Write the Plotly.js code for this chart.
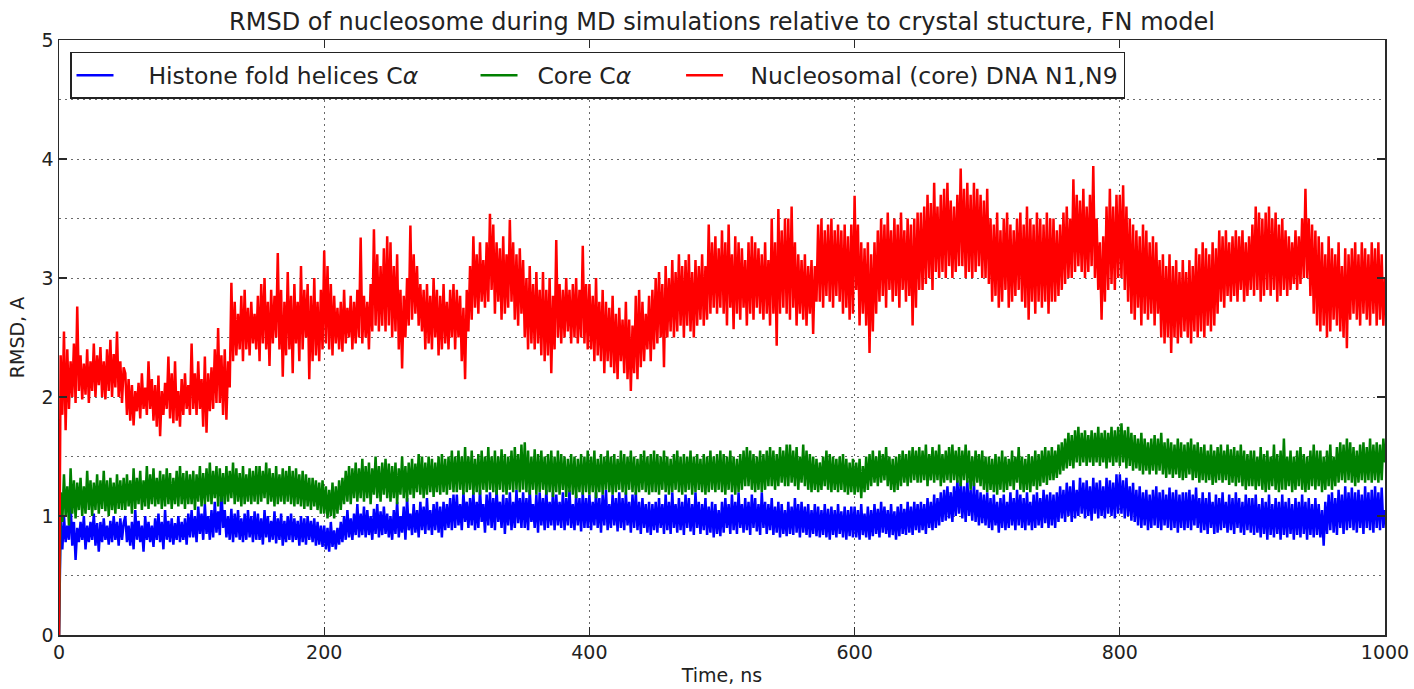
<!DOCTYPE html>
<html><head><meta charset="utf-8">
<script src="https://cdn.plot.ly/plotly-3.0.1.min.js"></script>
<style>html,body{margin:0;padding:0;background:#fff}#chart{width:1414px;height:689px}</style>
</head><body><div id="chart"></div>
<script>
// time axis: one sample every 1.25 ns starting at 0 ns
const timeStart = 0;
const timeStep = 1.25;

const seriesNames = ['Histone fold helices C<i>α</i>', 'Core C<i>α</i>', 'Nucleosomal (core) DNA N1,N9'];

// RMSD (A), Histone fold helices C-alpha
const histoneRmsd = [
0,0.95,0.72,1.0,0.78,0.92,0.8,1.11,0.75,0.95,0.63,0.9,0.78,0.95,0.8,1.0,0.72,0.92,0.78,0.95,0.8,1.02,0.75,0.94,0.7,0.95,0.78,0.98,0.8,0.92,0.76,0.96,0.78,1.0,0.8,0.95,0.75,0.98,0.8,0.94,
1.0,0.78,0.92,0.75,0.95,0.72,1.05,0.8,0.96,0.78,0.92,0.7,1.0,0.8,0.95,0.78,0.92,0.74,0.98,0.8,1.02,0.78,0.95,0.72,1.05,0.8,0.96,0.78,0.98,0.76,0.94,0.8,1.0,0.78,0.95,0.8,0.98,0.76,1.02,0.82,
1.05,0.82,1.0,0.78,1.08,0.85,1.02,0.8,1.1,0.85,1.0,0.8,1.05,0.82,1.12,0.86,1.04,0.84,1.22,0.9,1.05,0.82,1.0,0.8,1.06,0.78,1.02,0.82,1.05,0.8,0.98,0.78,1.02,0.8,1.05,0.82,1.0,0.78,1.04,0.8,
1.02,0.8,0.98,0.76,1.05,0.82,1.0,0.78,0.96,0.8,1.04,0.77,0.98,0.8,1.02,0.75,0.96,0.78,1.0,0.8,1.02,0.78,0.98,0.8,0.96,0.75,1.0,0.78,0.98,0.76,1.0,0.8,0.96,0.78,0.98,0.75,0.95,0.76,0.92,0.74,
0.92,0.72,0.9,0.7,0.95,0.74,0.88,0.72,0.9,0.76,0.95,0.78,1.0,0.8,1.05,0.82,0.98,0.8,1.02,0.84,1.1,0.82,1.02,0.84,1.08,0.82,1.05,0.84,1.0,0.8,1.06,0.85,1.1,0.82,1.04,0.84,1.08,0.85,1.02,0.82,
1.0,0.8,1.05,0.85,1.12,0.82,1.0,0.86,1.08,0.8,1.15,0.88,1.02,0.84,1.1,0.86,1.05,0.82,1.12,0.88,1.08,0.85,1.15,0.88,1.05,0.84,1.1,0.88,1.12,0.86,1.08,0.82,1.12,0.88,1.1,0.9,1.15,0.88,1.18,0.9,
1.18,0.92,1.1,0.88,1.2,0.95,1.12,0.9,1.15,0.92,1.2,0.88,1.12,0.9,1.22,0.95,1.1,0.86,1.18,0.92,1.2,0.9,1.15,0.88,1.22,0.95,1.12,0.9,1.18,0.85,1.15,0.92,1.2,0.88,1.12,0.9,1.22,0.94,1.15,0.9,
1.2,0.9,1.15,0.88,1.22,0.95,1.1,0.9,1.18,0.86,1.2,0.92,1.15,0.88,1.22,0.9,1.12,0.92,1.2,0.88,1.18,0.92,1.12,0.9,1.2,0.88,1.15,0.92,1.22,0.9,1.1,0.88,1.18,0.92,1.15,0.87,1.2,0.9,1.15,0.9,
1.18,0.88,1.12,0.92,1.2,0.9,1.15,0.86,1.18,0.92,1.22,0.88,1.1,0.9,1.18,0.92,1.15,0.87,1.2,0.9,1.15,0.88,1.2,0.92,1.12,0.86,1.18,0.9,1.2,0.88,1.12,0.85,1.15,0.9,1.1,0.86,1.12,0.84,1.1,0.88,
1.12,0.86,1.15,0.9,1.1,0.85,1.18,0.88,1.12,0.85,1.2,0.9,1.1,0.86,1.15,0.88,1.12,0.84,1.18,0.9,1.15,0.87,1.1,0.84,1.2,0.9,1.12,0.85,1.1,0.88,1.15,0.84,1.08,0.86,1.12,0.82,1.1,0.85,1.05,0.83,
1.12,0.86,1.15,0.9,1.1,0.85,1.18,0.88,1.12,0.85,1.2,0.9,1.1,0.86,1.15,0.88,1.12,0.84,1.18,0.9,1.15,0.87,1.1,0.84,1.2,0.9,1.12,0.85,1.1,0.88,1.15,0.84,1.08,0.86,1.12,0.82,1.1,0.85,1.05,0.83,
1.12,0.85,1.08,0.84,1.15,0.86,1.1,0.82,1.12,0.86,1.08,0.84,1.1,0.82,1.05,0.85,1.1,0.83,1.08,0.82,1.05,0.84,1.1,0.82,1.06,0.8,1.08,0.84,1.05,0.82,1.1,0.85,1.04,0.82,1.08,0.8,1.05,0.83,1.08,0.82,
1.08,0.82,1.05,0.8,1.1,0.84,1.02,0.82,1.08,0.8,1.05,0.83,1.1,0.85,1.06,0.82,1.12,0.86,1.08,0.85,1.05,0.82,1.1,0.84,1.04,0.8,1.08,0.83,1.1,0.85,1.06,0.84,1.12,0.86,1.08,0.84,1.12,0.88,1.1,0.86,
1.12,0.88,1.1,0.85,1.15,0.9,1.12,0.88,1.18,0.9,1.15,0.92,1.2,0.95,1.22,0.96,1.25,0.98,1.2,0.95,1.25,1.0,1.3,1.02,1.28,0.98,1.25,0.95,1.3,1.0,1.22,0.96,1.28,0.95,1.22,0.92,1.2,0.94,1.18,0.92,
1.2,0.9,1.15,0.88,1.18,0.92,1.12,0.86,1.15,0.9,1.18,0.88,1.12,0.9,1.2,0.92,1.15,0.88,1.22,0.92,1.18,0.9,1.15,0.88,1.2,0.92,1.12,0.88,1.18,0.9,1.2,0.92,1.15,0.9,1.22,0.94,1.18,0.9,1.2,0.92,
1.18,0.9,1.2,0.95,1.25,0.98,1.22,0.95,1.28,1.0,1.25,0.95,1.3,0.98,1.22,1.0,1.32,1.02,1.28,0.98,1.3,1.0,1.25,0.96,1.32,1.02,1.28,0.98,1.3,1.0,1.25,0.98,1.32,1.02,1.3,1.0,1.28,0.98,1.35,1.02,
1.35,1.02,1.3,0.98,1.32,1.0,1.25,0.96,1.28,0.95,1.22,0.92,1.25,0.9,1.2,0.92,1.22,0.88,1.18,0.9,1.22,0.92,1.25,0.9,1.2,0.88,1.22,0.92,1.18,0.9,1.24,0.88,1.2,0.9,1.22,0.86,1.18,0.9,1.2,0.88,
1.2,0.9,1.22,0.88,1.18,0.92,1.24,0.9,1.15,0.86,1.2,0.88,1.15,0.85,1.2,0.9,1.12,0.85,1.18,0.86,1.15,0.88,1.2,0.9,1.12,0.86,1.18,0.88,1.15,0.85,1.2,0.9,1.15,0.86,1.12,0.84,1.18,0.88,1.15,0.86,
1.15,0.84,1.18,0.86,1.1,0.82,1.15,0.85,1.12,0.8,1.18,0.84,1.1,0.82,1.15,0.85,1.12,0.8,1.18,0.84,1.12,0.82,1.15,0.85,1.1,0.8,1.15,0.84,1.12,0.82,1.18,0.85,1.12,0.8,1.15,0.84,1.1,0.82,1.15,0.84,
1.1,0.82,1.05,0.75,1.12,0.85,1.18,0.88,1.2,0.86,1.15,0.84,1.22,0.9,1.18,0.85,1.25,0.88,1.2,0.9,1.24,0.88,1.2,0.86,1.22,0.9,1.18,0.85,1.25,0.9,1.2,0.88,1.22,0.86,1.25,0.9,1.2,0.88,1.24,0.9,
1.05];

// RMSD (A), Core C-alpha
const coreRmsd = [
0,1.2,0.95,1.35,1.0,1.25,0.92,1.4,1.02,1.3,0.98,1.28,1.05,1.32,1.0,1.25,1.02,1.38,1.05,1.3,1.0,1.28,1.05,1.35,1.02,1.3,1.06,1.38,1.04,1.3,1.0,1.32,1.05,1.28,1.02,1.35,1.06,1.3,1.05,1.32,
1.05,1.35,1.08,1.3,1.02,1.4,1.06,1.32,1.1,1.38,1.05,1.3,1.08,1.42,1.06,1.35,1.1,1.4,1.08,1.32,1.1,1.38,1.06,1.35,1.08,1.4,1.1,1.36,1.06,1.32,1.1,1.38,1.08,1.42,1.1,1.36,1.06,1.38,1.1,1.35,
1.1,1.38,1.05,1.35,1.12,1.42,1.08,1.36,1.1,1.4,1.12,1.45,1.1,1.38,1.15,1.42,1.08,1.4,1.12,1.36,1.1,1.42,1.12,1.38,1.15,1.45,1.1,1.4,1.12,1.36,1.08,1.42,1.1,1.35,1.12,1.4,1.1,1.38,1.12,1.42,
1.1,1.42,1.12,1.38,1.15,1.45,1.1,1.4,1.12,1.36,1.08,1.42,1.1,1.35,1.12,1.4,1.1,1.38,1.12,1.42,1.1,1.38,1.08,1.4,1.1,1.35,1.08,1.38,1.06,1.35,1.08,1.32,1.05,1.32,1.08,1.3,1.05,1.28,1.02,1.3,
1.02,1.25,0.98,1.22,1.0,1.28,0.98,1.25,1.02,1.3,1.05,1.32,1.1,1.38,1.12,1.42,1.1,1.4,1.15,1.45,1.12,1.4,1.15,1.48,1.12,1.42,1.15,1.45,1.1,1.4,1.18,1.5,1.15,1.42,1.12,1.45,1.18,1.48,1.15,1.44,
1.12,1.42,1.15,1.45,1.1,1.4,1.18,1.5,1.15,1.42,1.12,1.45,1.18,1.48,1.15,1.44,1.2,1.52,1.18,1.5,1.15,1.45,1.18,1.5,1.2,1.48,1.16,1.45,1.2,1.5,1.18,1.52,1.2,1.48,1.18,1.5,1.22,1.55,1.2,1.5,
1.2,1.55,1.22,1.5,1.18,1.58,1.2,1.5,1.22,1.55,1.18,1.48,1.2,1.52,1.18,1.55,1.22,1.5,1.2,1.58,1.22,1.5,1.2,1.55,1.18,1.5,1.22,1.56,1.2,1.52,1.18,1.5,1.22,1.55,1.2,1.58,1.22,1.52,1.2,1.6,
1.22,1.62,1.2,1.55,1.18,1.5,1.22,1.56,1.18,1.52,1.2,1.55,1.22,1.5,1.18,1.52,1.2,1.55,1.16,1.5,1.2,1.55,1.18,1.52,1.22,1.5,1.16,1.48,1.2,1.52,1.18,1.5,1.15,1.48,1.2,1.52,1.18,1.5,1.2,1.55,
1.18,1.5,1.2,1.55,1.15,1.48,1.2,1.52,1.18,1.5,1.22,1.55,1.2,1.5,1.18,1.52,1.2,1.48,1.22,1.55,1.2,1.52,1.18,1.5,1.22,1.55,1.2,1.5,1.18,1.48,1.2,1.52,1.22,1.55,1.2,1.5,1.18,1.52,1.2,1.55,
1.2,1.52,1.18,1.5,1.22,1.55,1.2,1.5,1.18,1.48,1.2,1.52,1.22,1.55,1.2,1.5,1.18,1.52,1.2,1.5,1.22,1.55,1.18,1.5,1.2,1.52,1.22,1.48,1.2,1.52,1.18,1.5,1.2,1.55,1.22,1.5,1.2,1.52,1.22,1.55,
1.2,1.52,1.18,1.5,1.22,1.55,1.2,1.5,1.18,1.48,1.2,1.52,1.22,1.55,1.25,1.58,1.25,1.55,1.22,1.52,1.2,1.5,1.22,1.55,1.2,1.52,1.22,1.55,1.25,1.58,1.25,1.55,1.22,1.52,1.25,1.58,1.28,1.55,1.25,1.6,
1.25,1.6,1.28,1.55,1.25,1.58,1.22,1.5,1.28,1.6,1.25,1.55,1.22,1.52,1.2,1.5,1.22,1.48,1.2,1.45,1.22,1.5,1.25,1.55,1.22,1.52,1.2,1.5,1.22,1.48,1.2,1.5,1.22,1.52,1.2,1.48,1.18,1.45,1.2,1.48,
1.18,1.45,1.2,1.48,1.15,1.42,1.2,1.5,1.22,1.52,1.25,1.55,1.28,1.5,1.25,1.55,1.28,1.52,1.3,1.58,1.25,1.5,1.22,1.48,1.2,1.5,1.22,1.52,1.25,1.55,1.28,1.52,1.25,1.55,1.28,1.58,1.3,1.55,1.28,1.58,
1.28,1.55,1.3,1.6,1.25,1.52,1.3,1.58,1.28,1.55,1.3,1.6,1.25,1.52,1.28,1.55,1.3,1.58,1.28,1.6,1.3,1.55,1.28,1.58,1.25,1.55,1.3,1.6,1.28,1.55,1.22,1.5,1.25,1.55,1.28,1.52,1.25,1.55,1.22,1.5,
1.2,1.5,1.22,1.48,1.2,1.52,1.18,1.5,1.22,1.55,1.2,1.5,1.22,1.48,1.25,1.55,1.22,1.5,1.28,1.58,1.22,1.5,1.2,1.48,1.22,1.52,1.2,1.5,1.25,1.55,1.22,1.52,1.25,1.55,1.28,1.58,1.26,1.55,1.3,1.58,
1.3,1.55,1.32,1.6,1.35,1.62,1.38,1.65,1.4,1.7,1.42,1.68,1.4,1.72,1.45,1.75,1.42,1.7,1.45,1.72,1.42,1.68,1.45,1.72,1.42,1.7,1.45,1.75,1.42,1.7,1.45,1.72,1.4,1.7,1.45,1.75,1.42,1.72,1.45,1.75,
1.42,1.78,1.45,1.72,1.4,1.75,1.42,1.7,1.38,1.68,1.4,1.65,1.38,1.7,1.35,1.65,1.38,1.62,1.35,1.65,1.38,1.68,1.35,1.65,1.38,1.7,1.35,1.62,1.32,1.65,1.35,1.62,1.32,1.6,1.35,1.65,1.32,1.62,1.3,1.6,
1.32,1.62,1.35,1.65,1.3,1.6,1.32,1.62,1.28,1.58,1.3,1.6,1.28,1.55,1.3,1.6,1.26,1.55,1.28,1.58,1.3,1.6,1.28,1.55,1.3,1.6,1.26,1.56,1.28,1.58,1.25,1.55,1.28,1.6,1.25,1.55,1.22,1.52,1.25,1.55,
1.25,1.55,1.22,1.5,1.25,1.58,1.22,1.52,1.2,1.55,1.22,1.5,1.25,1.6,1.22,1.52,1.2,1.55,1.22,1.65,1.22,1.5,1.25,1.55,1.2,1.5,1.22,1.55,1.25,1.58,1.22,1.52,1.2,1.5,1.22,1.55,1.25,1.6,1.22,1.55,
1.25,1.55,1.2,1.5,1.22,1.55,1.25,1.6,1.22,1.5,1.25,1.58,1.28,1.62,1.3,1.6,1.28,1.65,1.3,1.62,1.28,1.58,1.25,1.55,1.28,1.6,1.3,1.62,1.28,1.58,1.3,1.65,1.28,1.6,1.3,1.62,1.28,1.6,1.3,1.65,
1.45];

// RMSD (A), Nucleosomal (core) DNA N1,N9
const dnaRmsd = [
0,2.35,1.85,2.55,1.72,2.4,1.9,2.3,2.0,2.45,1.95,2.76,2.05,2.35,1.98,2.28,2.02,2.4,1.95,2.3,2.05,2.45,2.0,2.35,2.1,2.42,2.0,2.3,1.98,2.4,2.05,2.48,2.0,2.36,2.08,2.55,2.0,2.3,1.95,2.25,
2.2,1.85,2.15,1.8,2.1,1.76,2.05,1.88,2.12,1.82,2.2,1.9,2.08,1.85,2.3,1.9,2.15,1.8,2.1,1.75,2.18,1.67,2.05,1.85,2.12,1.9,2.34,1.82,2.2,1.78,2.3,1.8,2.05,1.75,2.15,1.85,2.2,1.9,2.1,1.85,
2.45,1.9,2.2,1.85,2.3,1.9,2.15,1.75,2.34,1.7,2.2,1.88,2.25,1.9,2.4,1.95,2.58,1.95,2.35,1.85,2.4,1.81,2.3,2.08,2.96,2.3,2.8,2.35,2.7,2.4,2.85,2.3,2.9,2.4,2.75,2.35,2.8,2.45,2.7,2.4,
2.85,2.3,2.95,2.45,3.0,2.4,2.8,2.26,2.9,2.45,2.85,2.5,3.21,2.4,2.9,2.17,2.8,2.35,3.05,2.4,2.85,2.2,2.95,2.45,2.8,2.3,3.1,2.4,2.9,2.5,2.95,2.15,2.85,2.3,3.0,2.35,2.8,2.3,2.9,2.4,
3.23,2.45,3.1,2.4,2.95,2.35,2.85,2.45,2.75,2.4,2.8,2.38,2.9,2.45,2.75,2.5,2.85,2.4,2.8,2.45,2.9,2.5,3.34,2.45,2.85,2.5,2.8,2.4,2.95,2.55,3.41,2.6,3.2,2.55,3.1,2.6,3.25,2.55,3.35,2.6,
3.3,2.5,3.1,2.55,3.2,2.4,2.9,2.24,2.85,2.5,3.0,2.6,3.44,2.65,3.2,2.7,3.1,2.6,2.95,2.55,2.9,2.4,2.95,2.45,2.85,2.4,3.0,2.5,2.9,2.35,2.85,2.4,2.95,2.45,2.8,2.4,2.9,2.5,2.95,2.4,
2.9,2.5,2.85,2.3,2.75,2.15,2.9,2.55,3.1,2.65,3.35,2.75,3.2,2.7,3.3,2.8,3.15,2.75,3.3,2.8,3.54,2.9,3.45,2.7,3.3,2.8,3.25,2.65,3.35,2.7,3.2,2.75,3.49,2.8,3.3,2.65,3.2,2.6,3.25,2.7,
3.15,2.5,3.0,2.4,3.1,2.45,2.95,2.4,3.05,2.45,2.9,2.35,3.05,2.3,2.9,2.35,3.0,2.2,2.85,2.4,3.32,2.5,2.95,2.45,2.9,2.5,3.0,2.55,2.9,2.45,2.95,2.5,3.0,2.45,2.9,2.5,3.27,2.45,2.95,2.4,
2.95,2.4,2.85,2.3,3.0,2.35,2.8,2.3,2.9,2.2,2.8,2.3,2.75,2.25,2.85,2.2,2.7,2.15,2.75,2.3,2.65,2.2,2.8,2.15,2.65,2.05,2.6,2.2,2.85,2.15,2.9,2.25,2.8,2.3,2.7,2.4,2.85,2.3,2.9,2.4,
3.0,2.45,3.05,2.5,2.95,2.25,3.1,2.5,3.0,2.55,3.15,2.5,3.05,2.55,3.2,2.6,3.1,2.5,3.15,2.6,3.2,2.55,3.05,2.5,3.15,2.6,3.1,2.65,3.2,2.6,3.1,2.65,3.45,2.7,3.3,2.75,3.35,2.7,3.25,2.75,
3.4,2.7,3.3,2.6,3.45,2.75,3.2,2.57,3.35,2.7,3.3,2.65,3.25,2.75,3.15,2.6,3.3,2.7,3.35,2.65,3.3,2.75,3.25,2.7,3.2,2.65,3.3,2.7,3.15,2.6,3.5,2.7,3.3,2.43,3.58,2.7,3.4,2.75,3.5,2.7,
3.5,2.65,3.6,2.75,3.3,2.6,3.2,2.7,3.15,2.65,3.2,2.6,3.1,2.7,3.15,2.53,3.1,2.8,3.45,2.8,3.5,2.75,3.4,2.85,3.45,2.8,3.5,2.75,3.4,2.85,3.45,2.8,3.4,2.7,3.45,2.75,3.35,2.65,3.45,2.7,
3.69,2.9,3.45,2.6,3.3,2.7,3.25,2.6,3.3,2.37,3.2,2.55,3.3,2.7,3.4,2.8,3.5,2.85,3.45,2.75,3.55,2.9,3.4,2.8,3.5,2.85,3.45,2.75,3.55,2.9,3.4,2.8,3.5,2.85,3.45,2.6,3.5,2.75,3.55,2.9,
3.55,2.9,3.6,2.95,3.7,3.0,3.63,2.9,3.8,3.05,3.6,3.0,3.7,3.05,3.75,3.0,3.8,3.1,3.65,3.0,3.6,3.05,3.7,3.1,3.92,3.1,3.75,3.0,3.8,3.05,3.7,3.0,3.8,3.05,3.75,3.1,3.7,3.0,3.65,3.0,
3.75,2.95,3.5,2.8,3.45,2.85,3.55,2.75,3.4,2.8,3.5,2.9,3.55,2.75,3.45,2.8,3.4,2.85,3.5,2.9,3.55,2.8,3.45,2.75,3.6,2.65,3.5,2.8,3.45,2.7,3.55,2.8,3.5,2.75,3.45,2.8,3.55,2.7,3.5,2.8,
3.5,2.8,3.4,2.85,3.45,2.9,3.55,2.95,3.6,3.0,3.5,3.0,3.83,3.05,3.7,3.1,3.65,3.05,3.75,3.0,3.6,3.05,3.7,3.1,3.94,3.0,3.5,2.9,3.3,2.65,3.35,2.8,3.6,2.9,3.75,2.95,3.6,2.9,3.7,3.0,
3.7,3.0,3.78,2.9,3.6,2.8,3.5,2.7,3.45,2.65,3.4,2.75,3.35,2.6,3.45,2.7,3.4,2.65,3.3,2.7,3.35,2.6,3.3,2.7,3.15,2.5,3.2,2.45,3.1,2.5,3.2,2.37,3.1,2.5,3.15,2.45,3.05,2.5,3.15,2.55,
3.05,2.5,3.15,2.45,3.1,2.55,3.25,2.5,3.2,2.55,3.3,2.5,3.25,2.6,3.2,2.55,3.3,2.6,3.25,2.7,3.4,2.8,3.35,2.75,3.4,2.85,3.3,2.8,3.35,2.85,3.4,2.8,3.35,2.9,3.4,2.8,3.3,2.85,3.35,2.9,
3.45,2.85,3.6,2.9,3.55,2.8,3.5,2.85,3.55,2.9,3.6,2.85,3.5,2.9,3.55,2.8,3.45,2.85,3.5,2.9,3.4,2.85,3.35,2.9,3.3,2.95,3.4,2.9,3.35,2.95,3.5,3.0,3.75,3.0,3.5,2.85,3.45,2.7,3.4,2.6,
3.35,2.55,3.3,2.6,3.2,2.5,3.35,2.55,3.25,2.65,3.2,2.6,3.3,2.55,3.1,2.5,3.25,2.41,3.2,2.65,3.25,2.7,3.3,2.65,3.2,2.6,3.3,2.7,3.25,2.65,3.2,2.6,3.3,2.7,3.25,2.6,3.3,2.65,3.2,2.6,
3.0];

const seriesValues = [histoneRmsd, coreRmsd, dnaRmsd];
const seriesColors = ['#0000ff', '#008000', '#ff0000'];
// legend spacing (non-breaking spaces before / after each name)
const legendLead = [4, 2, 3];
const legendTrail = [7, 6, 0];

const FONT = 'DejaVu Sans, Bitstream Vera Sans, sans-serif';
const nb = n => '\u00a0'.repeat(n);

const traces = seriesValues.map((vals, i) => ({
  type: 'scatter',
  mode: 'lines',
  name: nb(legendLead[i]) + seriesNames[i] + nb(legendTrail[i]),
  x0: timeStart,
  dx: timeStep,
  y: vals,
  line: {color: seriesColors[i], width: 2.5},
  hoverinfo: 'skip'
}));

const gridStyle = {gridcolor: '#6a6a6a', gridwidth: 1, griddash: '1.5px,4.5px'};

const axisCommon = Object.assign({
  showline: true, linecolor: '#2a2a2a', linewidth: 1.5, mirror: 'ticks',
  ticks: 'inside', ticklen: 8, tickwidth: 1.2, tickcolor: '#2a2a2a',
  showgrid: true,
  zeroline: false,
  tickfont: {family: FONT, size: 19, color: '#222'}
}, gridStyle);

const layout = {
  width: 1414, height: 689,
  paper_bgcolor: '#fff', plot_bgcolor: '#fff',
  margin: {l: 59, r: 29, t: 40, b: 54},
  font: {family: FONT, color: '#222'},
  title: {
    text: 'RMSD of nucleosome during MD simulations relative to crystal stucture, FN model',
    font: {family: FONT, size: 24, color: '#222'},
    x: 0.5, xref: 'paper', xanchor: 'center',
    y: 0.968, yref: 'container', yanchor: 'middle'
  },
  xaxis: Object.assign({}, axisCommon, {
    range: [0, 1000], tick0: 0, dtick: 200,
    title: {text: 'Time, ns', font: {family: FONT, size: 19, color: '#222'}, standoff: 6}
  }),
  yaxis: Object.assign({}, axisCommon, {
    range: [0, 5], tick0: 0, dtick: 1,
    minor: Object.assign({dtick: 0.5, showgrid: true, ticks: ''}, gridStyle),
    title: {text: 'RMSD, A', font: {family: FONT, size: 19, color: '#222'}, standoff: 12}
  }),
  showlegend: true,
  legend: {
    orientation: 'h',
    x: 0.0083, y: 0.98, xanchor: 'left', yanchor: 'top',
    bgcolor: '#fff', bordercolor: '#222', borderwidth: 1.5,
    font: {family: FONT, size: 23.5, color: '#222'},
    itemwidth: 37,
    traceorder: 'normal'
  }
};

Plotly.newPlot('chart', traces, layout, {displayModeBar: false, staticPlot: true});
</script>
</body></html>
